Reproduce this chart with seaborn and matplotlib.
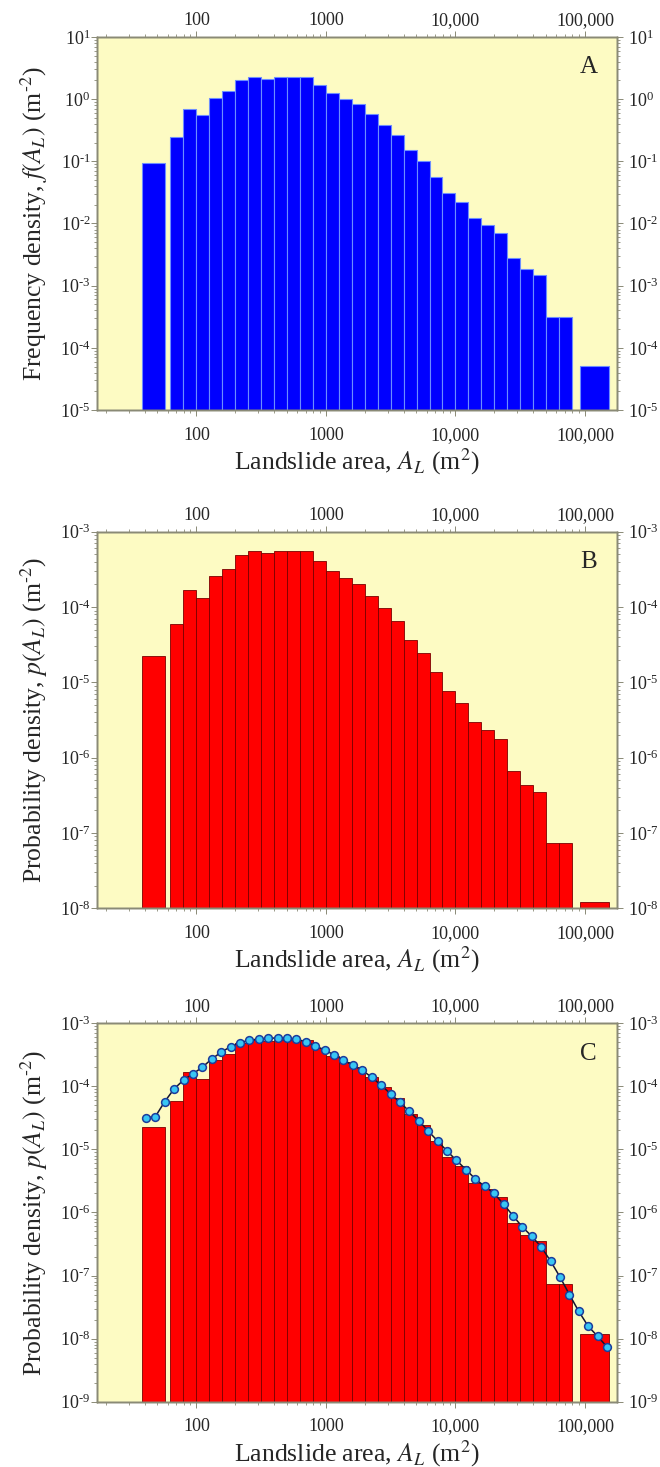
import numpy as np
import pandas as pd
import matplotlib
matplotlib.use("Agg")
import matplotlib.pyplot as plt
from matplotlib import ticker
import seaborn as sns

# Histogram bars: lower / upper landslide-area edge of each bar (m^2)
bin_lo = [38, 63.1, 79.4, 100, 125.9, 158.5, 199.5, 251.2, 316.2, 398.1,
          501.2, 631.0, 794.3, 1000, 1259, 1585, 1995, 2512, 3162, 3981,
          5012, 6310, 7943, 10000, 12589, 15849, 19953, 25119, 31623, 39811,
          50119, 63096, 91500]
bin_hi = [57, 79.4, 100, 125.9, 158.5, 199.5, 251.2, 316.2, 398.1, 501.2,
          631.0, 794.3, 1000, 1259, 1585, 1995, 2512, 3162, 3981, 5012,
          6310, 7943, 10000, 12589, 15849, 19953, 25119, 31623, 39811, 50119,
          63096, 79433, 152000]

# Frequency density f(A_L) (m^-2)
freq_density = [0.093, 0.245, 0.69, 0.55, 1.05, 1.33, 2.0, 2.27, 2.13, 2.27,
                2.27, 2.27, 1.66, 1.25, 1.0, 0.84, 0.57, 0.39, 0.264, 0.151,
                0.102, 0.0557, 0.0315, 0.022, 0.0123, 0.0095, 0.0071, 0.00282,
                0.00184, 0.00149, 3.1e-4, 3.1e-4, 5.1e-5]

# Probability density p(A_L) (m^-2)
prob_density = [2.25e-5, 5.9e-5, 1.68e-4, 1.33e-4, 2.58e-4, 3.23e-4, 4.86e-4,
                5.48e-4, 5.2e-4, 5.5e-4, 5.5e-4, 5.5e-4, 4.1e-4, 3.03e-4,
                2.4e-4, 2.04e-4, 1.39e-4, 9.6e-5, 6.5e-5, 3.65e-5, 2.47e-5,
                1.36e-5, 7.7e-6, 5.4e-6, 2.97e-6, 2.33e-6, 1.78e-6, 6.7e-7,
                4.4e-7, 3.5e-7, 7.4e-8, 7.4e-8, 1.2e-8]

# Kernel density estimate of p(A_L)
kde_area = [40.7, 48.2, 56.9, 67.3, 79.6, 94.0, 111, 131, 155, 184,
            217, 257, 303, 359, 424, 501, 592, 700, 828, 979,
            1157, 1367, 1616, 1911, 2259, 2670, 3157, 3731, 4411, 5214,
            6164, 7286, 8613, 10182, 12036, 14228, 16819, 19882, 23503, 27783,
            32842, 38823, 45893, 54250, 64130, 75809, 89614, 105933, 125225, 147910]
kde_density = [3.18e-5, 3.3e-5, 5.7e-5, 9.1e-5, 1.26e-4, 1.58e-4, 2.0e-4, 2.7e-4, 3.46e-4, 4.26e-4,
               4.93e-4, 5.37e-4, 5.63e-4, 5.78e-4, 5.84e-4, 5.78e-4, 5.57e-4, 5.1e-4, 4.36e-4, 3.77e-4,
               3.14e-4, 2.61e-4, 2.15e-4, 1.79e-4, 1.39e-4, 1.04e-4, 7.6e-5, 5.57e-5, 4.0e-5, 2.85e-5,
               1.95e-5, 1.36e-5, 9.4e-6, 6.7e-6, 4.8e-6, 3.4e-6, 2.6e-6, 2.0e-6, 1.36e-6, 8.9e-7,
               5.9e-7, 4.2e-7, 2.85e-7, 1.7e-7, 9.5e-8, 5.0e-8, 2.7e-8, 1.57e-8, 1.09e-8, 7.4e-9]

# Axis ticks
x_ticks = [100, 1000, 10000, 100000]
x_tick_labels = ["100", "1000", "10,000", "100,000"]
y_exp_A = [-5, -4, -3, -2, -1, 0, 1]
y_exp_B = [-8, -7, -6, -5, -4, -3]
y_exp_C = [-9, -8, -7, -6, -5, -4, -3]

HY = "\u2010"  # short hyphen used in the exponents
x_label = "Landslide area, $A_L$ (m$^2$)"
y_label_f = "Frequency density, $f(A_L)$ (m$^{" + HY + "2}$)"
y_label_p = "Probability density, $p(A_L)$ (m$^{" + HY + "2}$)"

sns.set_theme(style="ticks")
plt.rcParams["font.family"] = ["Liberation Serif", "DejaVu Serif"]
plt.rcParams["mathtext.fontset"] = "stix"

BG = "#fdfbc3"
SPINE = "#8a8a76"
XLIM = (17, 176000)
TICK_FS = 13
LABEL_FS = 18.5

fig = plt.figure(figsize=(6.6, 14.67), dpi=100)


def exp_labels(exps):
    return [r"$\mathregular{10^{%s}}$" % (str(e).replace("-", HY)) for e in exps]


def style_axis(axis_obj, ticks, labels):
    axis_obj.set_major_locator(ticker.FixedLocator(ticks))
    axis_obj.set_major_formatter(ticker.FixedFormatter(labels))
    axis_obj.set_minor_locator(ticker.LogLocator(base=10, subs=np.arange(2, 10), numticks=100))
    axis_obj.set_minor_formatter(ticker.NullFormatter())


def panel(rect, heights, face, edge, lw, ylim, y_exps, ylabel, letter, curve=False):
    ax = fig.add_axes(rect)
    ax.set_facecolor(BG)
    lo = np.array(bin_lo, dtype=float)
    hi = np.array(bin_hi, dtype=float)
    bars = pd.DataFrame({"area": np.sqrt(lo * hi), "density": heights})
    edges = list(np.log10(np.unique(np.concatenate([lo, hi]))))
    sns.histplot(data=bars, x="area", weights="density", bins=edges, log_scale=True,
                 ax=ax, color=face, edgecolor=edge, linewidth=lw, alpha=1.0)
    if curve:
        kde = pd.DataFrame({"area": kde_area, "density": kde_density})
        sns.lineplot(data=kde, x="area", y="density", ax=ax, color="#141432", lw=1.1,
                     marker="o", markersize=5.6, markerfacecolor="#38c6f4",
                     markeredgecolor="#1c3c9c", markeredgewidth=1.1)
    ax.set_yscale("log")
    ax.set_xlim(*XLIM)
    ax.set_ylim(*ylim)

    yt = [10.0 ** e for e in y_exps]
    style_axis(ax.xaxis, x_ticks, x_tick_labels)
    style_axis(ax.yaxis, yt, exp_labels(y_exps))
    ax.tick_params(axis="x", which="major", length=4, width=0.7, color=SPINE,
                   pad=8, labelsize=TICK_FS, bottom=True, top=False)
    ax.tick_params(axis="x", which="minor", length=2.2, width=0.6, color=SPINE,
                   bottom=True, top=False)
    ax.tick_params(axis="y", which="major", length=4, width=0.7, color=SPINE,
                   pad=0.5, labelsize=TICK_FS, left=True, right=False)
    ax.tick_params(axis="y", which="minor", length=2.2, width=0.6, color=SPINE,
                   left=True, right=False)

    # top axis
    axt = ax.twiny()
    axt.set_xscale("log")
    axt.set_xlim(*XLIM)
    style_axis(axt.xaxis, x_ticks, x_tick_labels)
    axt.tick_params(axis="x", which="major", length=4, width=0.7, color=SPINE,
                    pad=1.5, labelsize=TICK_FS)
    axt.tick_params(axis="x", which="minor", length=2.2, width=0.6, color=SPINE)

    # right axis
    axr = ax.twinx()
    axr.set_yscale("log")
    axr.set_ylim(*ylim)
    style_axis(axr.yaxis, yt, exp_labels(y_exps))
    axr.tick_params(axis="y", which="major", length=4, width=0.7, color=SPINE,
                    pad=4, labelsize=TICK_FS)
    axr.tick_params(axis="y", which="minor", length=2.2, width=0.6, color=SPINE)

    for a in (ax, axt, axr):
        for s in a.spines.values():
            s.set_color(SPINE)
            s.set_linewidth(1.0)

    ax.set_xlabel(x_label, fontsize=LABEL_FS, labelpad=2)
    ax.set_ylabel(ylabel, fontsize=LABEL_FS, labelpad=7)
    ax.text(0.946, 0.92, letter, transform=ax.transAxes, ha="center", va="center",
            fontsize=18)
    return ax


panel([0.1465, 0.7205, 0.788, 0.2543], freq_density, "#0000ff", "#6d8dff", 0.8,
      (1e-5, 1e1), y_exp_A, y_label_f, "A")
panel([0.1465, 0.3808, 0.788, 0.2567], prob_density, "#ff0000", "#7a0000", 0.6,
      (1e-8, 1e-3), y_exp_B, y_label_p, "B")
panel([0.1465, 0.0445, 0.788, 0.258], prob_density, "#ff0000", "#7a0000", 0.6,
      (1e-9, 1e-3), y_exp_C, y_label_p, "C", curve=True)

fig.savefig("out.png", dpi=100)
